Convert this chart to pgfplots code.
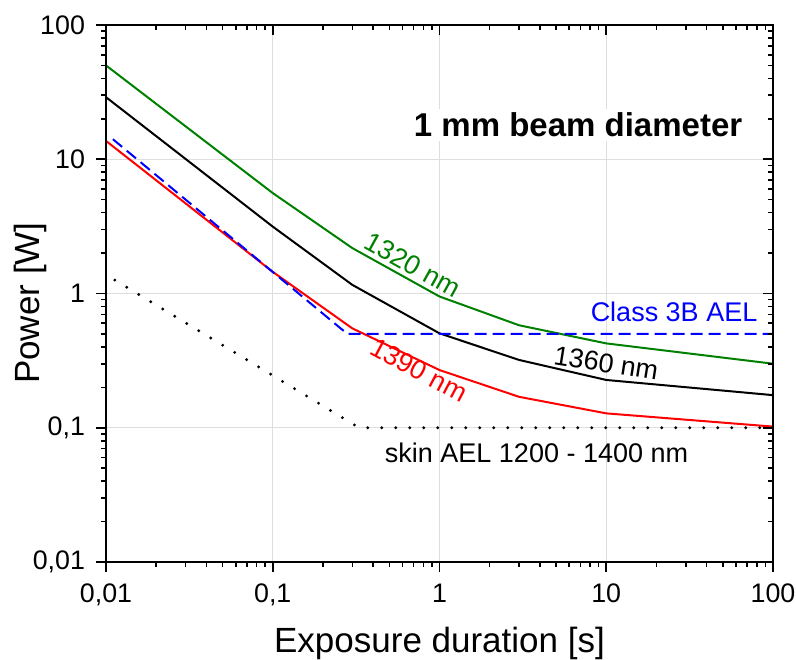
\documentclass[border=0pt]{standalone}
\usepackage{fontspec}
\setmainfont{Liberation Sans}
\usepackage{pgfplots}
\usepackage{pgfplotstable}
\pgfplotsset{compat=1.18}

\definecolor{cgreen}{RGB}{0,128,0}

% exposure limits, power in W over exposure time in s
\pgfplotstableread{
t P
0.01 50
0.1 5.6
0.3 2.18
1 0.95
3 0.58
10 0.425
100 0.30
}\nmA
\pgfplotstableread{
t P
0.01 29
0.1 3.15
0.3 1.16
1 0.505
3 0.32
10 0.227
100 0.175
}\nmB
\pgfplotstableread{
t P
0.01 13.7
0.1 1.45
0.3 0.55
1 0.269
3 0.17
10 0.128
100 0.102
}\nmC
\pgfplotstableread{
t P
0.011 14.1
0.28 0.5
100 0.5
}\classB
\pgfplotstableread{
t P
0.0113 1.26
0.33 0.1
100 0.1
}\skin

\begin{document}
\begin{tikzpicture}
\begin{axis}[
  xmode=log, ymode=log,
  scale only axis, width=333.5pt, height=268.5pt,
  xmin=0.01, xmax=100, ymin=0.01, ymax=100,
  xtick={0.01,0.1,1,10,100}, ytick={0.01,0.1,1,10,100},
  major tick length=5pt, minor tick length=2.5pt,
  every tick/.style={black, line width=0.8pt},
  axis line style={line width=1.2pt},
  xticklabels={{0,01},{0,1},1,10,100},
  yticklabels={{0,01},{0,1},1,10,100},
  xtick pos=bottom, ytick pos=left, tick align=outside,
  grid=major, major grid style={line width=0.6pt, draw=black!13},
  tick label style={font=\fontsize{13.4}{15}\selectfont},
  xticklabel style={yshift=-2.5pt},
  yticklabel style={xshift=-2pt},
  label style={font=\fontsize{17.5}{20}\selectfont},
  xlabel={Exposure duration [s]},
  ylabel={Power [W]},
  xlabel style={at={(axis description cs:0.5,-0.168)}, anchor=base},
  ylabel style={at={(axis description cs:-0.099,0.482)}, anchor=base},
]
\addplot[cgreen, line width=1pt] table[x=t, y=P] {\nmA};
\addplot[black, line width=1pt] table[x=t, y=P] {\nmB};
\addplot[red, line width=1pt] table[x=t, y=P] {\nmC};
\addplot[blue, line width=1pt, dash pattern=on 6pt off 3pt] table[x=t, y=P] {\classB};
\addplot[black, line width=1.6pt, dash pattern=on 0pt off 7pt, line cap=round] table[x=t, y=P] {\skin};

\node[font=\bfseries\fontsize{16.5}{18}\selectfont, fill=white, inner sep=2pt] at (axis cs:6.78,18) {1 mm beam diameter};
\node[text=cgreen, rotate=-29, font=\fontsize{13.5}{15}\selectfont] at (axis cs:0.69,1.63) {1320 nm};
\node[rotate=-9, font=\fontsize{13.5}{15}\selectfont] at (axis cs:10,0.303) {1360 nm};
\node[text=red, rotate=-28, font=\fontsize{13.5}{15}\selectfont] at (axis cs:0.753,0.269) {1390 nm};
\node[text=blue, font=\fontsize{13.5}{15}\selectfont] at (axis cs:25.5,0.727) {Class 3B AEL};
\node[font=\fontsize{13.5}{15}\selectfont] at (axis cs:3.82,0.065) {skin AEL 1200 - 1400 nm};
\end{axis}
\begin{axis}[
  xmode=log, ymode=log,
  scale only axis, width=333.5pt, height=268.5pt,
  xmin=0.01, xmax=100, ymin=0.01, ymax=100,
  xtick={0.01,0.1,1,10,100}, ytick={0.01,0.1,1,10,100},
  major tick length=5pt, minor tick length=2.5pt,
  every tick/.style={black, line width=0.8pt},
  axis line style={line width=1.2pt},
  xticklabels={}, yticklabels={},
  xtick pos=top, ytick pos=right, tick align=inside,
]
\end{axis}
\pgfresetboundingbox
\path (-53pt,-48.5pt) rectangle (345pt,281pt);
\end{tikzpicture}
\end{document}
